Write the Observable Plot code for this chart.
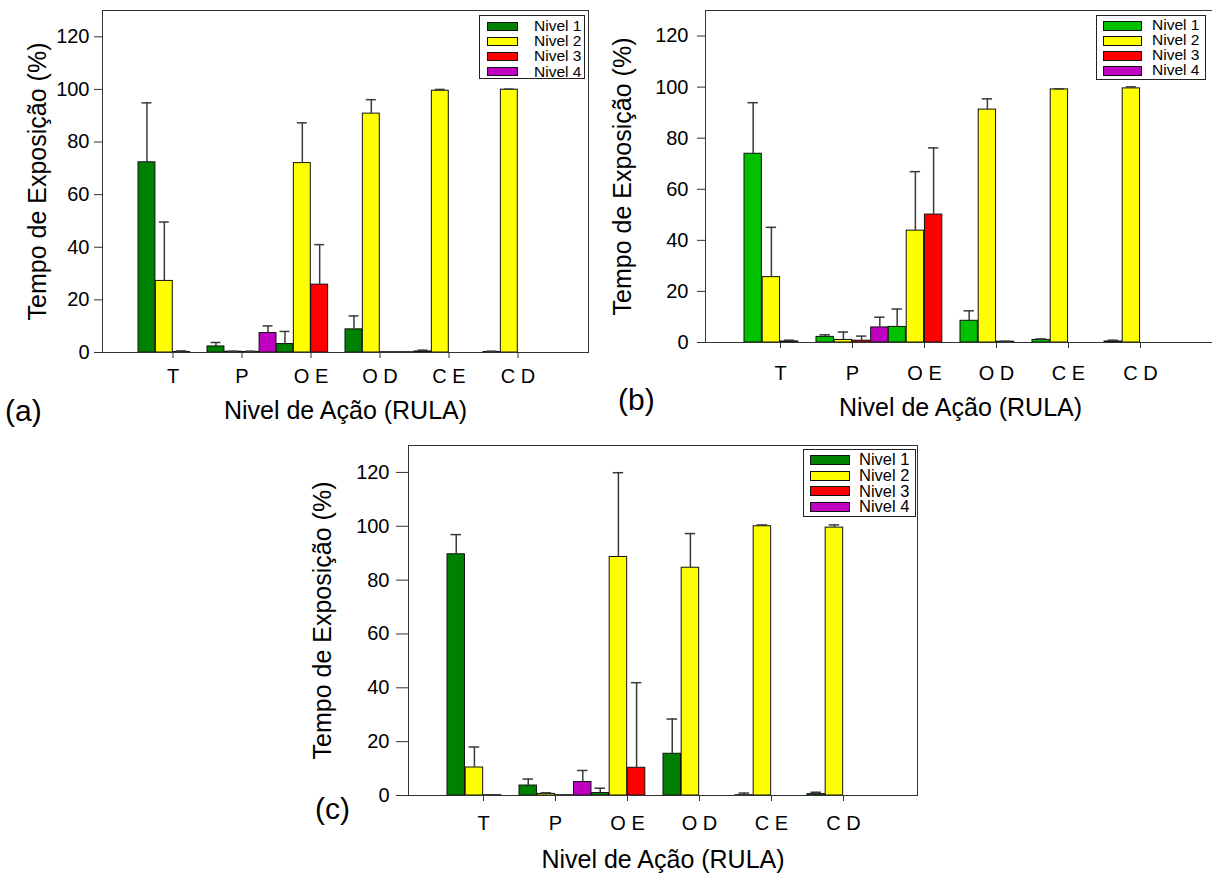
<!DOCTYPE html>
<html>
<head>
<meta charset="utf-8">
<script src="https://cdn.jsdelivr.net/npm/d3@7"></script>
<script src="https://cdn.jsdelivr.net/npm/@observablehq/plot@0.6"></script>
<style>
  html, body { margin: 0; padding: 0; background: #fff; overflow: hidden; }
  #page { position: relative; width: 1212px; height: 874px; overflow: hidden; font-family: "Liberation Sans", Arial, sans-serif; color: #000; }
  .panel { position: absolute; overflow: visible; }
  .panel svg { max-width: none !important; }
  .tag { position: absolute; font-size: 30px; line-height: 30px; color: #000; white-space: nowrap; }
  .legend { position: absolute; border: 1px solid #222; background: #fff; box-sizing: border-box; }
  .legend .sw { position: absolute; border: 1px solid #111; box-sizing: border-box; }
  .legend .lb { position: absolute; line-height: 0.9; white-space: nowrap; color: #000; }
  svg g[aria-label="y-axis label"], svg g[aria-label="x-axis label"] { font-size: 25px; }
</style>
</head>
<body>
<div id="page"></div>
<script>
// ---------- data ----------
const categories = ["T", "P", "O E", "O D", "C E", "C D"];
const niveis = ["Nivel 1", "Nivel 2", "Nivel 3", "Nivel 4"];
const yTicks = [0, 20, 40, 60, 80, 100, 120];
const xTitle = "Nivel de Ação (RULA)";
const yTitle = "Tempo de Exposição (%)";

// Panel (a): means and upper error limits, per category
const aNivel1 = [72.3, 2.3, 3.2, 8.8, 0.4, 0.2];
const aNivel1Top = [94.9, 3.8, 8.0, 13.9, 0.9, 0.5];
const aNivel2 = [27.2, 0.3, 72.0, 90.8, 99.5, 99.9];
const aNivel2Top = [49.6, 0.5, 87.3, 96.1, 100.0, 100.1];
const aNivel3 = [0.2, 0.2, 25.8, 0.1, 0, 0];
const aNivel3Top = [0.6, 0.5, 41.0, 0.3, 0, 0];
const aNivel4 = [0, 7.4, 0, 0.1, 0, 0];
const aNivel4Top = [0, 10.1, 0, 0.3, 0, 0];

// Panel (b)
const bNivel1 = [73.9, 2.2, 6.1, 8.5, 1.0, 0.4];
const bNivel1Top = [93.9, 3.0, 13.1, 12.4, 1.4, 0.9];
const bNivel2 = [25.6, 1.0, 43.8, 91.2, 99.1, 99.5];
const bNivel2Top = [45.1, 4.1, 66.9, 95.4, 99.3, 100.1];
const bNivel3 = [0.4, 0.7, 50.1, 0.3, 0, 0];
const bNivel3Top = [0.9, 2.5, 76.2, 0.5, 0, 0];
const bNivel4 = [0, 5.9, 0, 0, 0, 0];
const bNivel4Top = [0, 9.9, 0, 0, 0, 0];

// Panel (c)
const cNivel1 = [89.6, 3.7, 0.9, 15.5, 0.1, 0.5];
const cNivel1Top = [96.9, 6.1, 2.7, 28.4, 0.9, 1.2];
const cNivel2 = [10.4, 0.6, 88.6, 84.6, 100.0, 99.5];
const cNivel2Top = [18.0, 1.0, 119.9, 97.3, 100.5, 100.5];
const cNivel3 = [0.1, 0.1, 10.3, 0, 0, 0];
const cNivel3Top = [0.2, 0.2, 41.9, 0, 0, 0];
const cNivel4 = [0, 5.0, 0, 0, 0, 0];
const cNivel4Top = [0, 9.3, 0, 0, 0, 0];

const colorsDark = ["#008000", "#ffff00", "#ff0000", "#c000c0"];
const colorsBright = ["#00c000", "#ffff00", "#ff0000", "#c000c0"];

// ---------- helpers ----------
function makePanel(cfg) {
  const plotW = cfg.width - cfg.ml - cfg.mr;
  const band = plotW / (categories.length + 1); // 6 bands + half-band outer padding on each side
  const slot = band / niveis.length;            // each group of 4 bars fills its band
  const capInset = 3.5;
  const marks = [];
  niveis.forEach((n, j) => {
    const rows = categories.map((c, i) => ({cat: c, nivel: n, value: cfg.means[j][i], hi: cfg.tops[j][i]}));
    const errs = rows.filter(d => d.hi > d.value);
    const left = j * slot, right = (niveis.length - 1 - j) * slot;
    marks.push(Plot.barY(rows, {x: "cat", y: "value", fill: "nivel", stroke: "#111", strokeWidth: 1,
      insetLeft: left, insetRight: right}));
    marks.push(Plot.ruleX(errs, {x: "cat", y1: "value", y2: "hi", stroke: "#3a3a3a", strokeWidth: 1.5,
      dx: (j - (niveis.length - 1) / 2) * slot}));
    marks.push(Plot.tickY(errs, {x: "cat", y: "hi", stroke: "#3a3a3a", strokeWidth: 1.5,
      insetLeft: left + capInset, insetRight: right + capInset}));
  });
  const chart = Plot.plot({
    width: cfg.width, height: cfg.height,
    marginLeft: cfg.ml, marginRight: cfg.mr, marginTop: cfg.mt, marginBottom: cfg.mb,
    style: {fontFamily: '"Liberation Sans", Arial, sans-serif', fontSize: "20px", color: "#000", background: "transparent", overflow: "visible", maxWidth: "none"},
    x: {domain: categories, paddingInner: 0, paddingOuter: 0.5},
    y: {domain: [0, 130]},
    color: {domain: niveis, range: cfg.colors},
    marks: [
      ...marks,
      Plot.frame({stroke: "#333", strokeWidth: 1}),
      Plot.axisY({ticks: yTicks, tickSize: cfg.yTick, tickPadding: cfg.yPad, stroke: "#333",
        label: yTitle, labelAnchor: "center", labelArrow: "none", labelOffset: cfg.yLab}),
      Plot.axisX({tickSize: 6, tickPadding: cfg.xPad, stroke: "#333",
        label: xTitle, labelAnchor: "center", labelArrow: "none", labelOffset: cfg.xLab})
    ]
  });
  const div = document.createElement("div");
  div.className = "panel";
  div.style.left = cfg.left + "px";
  div.style.top = cfg.top + "px";
  div.style.width = cfg.width + "px";
  div.style.height = cfg.height + "px";
  div.appendChild(chart);
  page.appendChild(div);

  // legend (inside the frame, top-right)
  const lg = document.createElement("div");
  lg.className = "legend";
  Object.assign(lg.style, {left: cfg.lg.x + "px", top: cfg.lg.y + "px", width: cfg.lg.w + "px", height: cfg.lg.h + "px"});
  niveis.forEach((n, j) => {
    const cy = cfg.lg.first + j * cfg.lg.step;
    const sw = document.createElement("div");
    sw.className = "sw";
    Object.assign(sw.style, {left: cfg.lg.sx + "px", top: (cy - cfg.lg.sh / 2) + "px", width: cfg.lg.sw + "px", height: cfg.lg.sh + "px", background: cfg.colors[j]});
    const lb = document.createElement("div");
    lb.className = "lb";
    lb.textContent = n;
    Object.assign(lb.style, {left: cfg.lg.tx + "px", top: (cy - cfg.lg.fs * 0.47) + "px", fontSize: cfg.lg.fs + "px"});
    lg.appendChild(sw);
    lg.appendChild(lb);
  });
  page.appendChild(lg);

  const tag = document.createElement("div");
  tag.className = "tag";
  tag.textContent = cfg.tag;
  Object.assign(tag.style, {left: cfg.tagX + "px", top: cfg.tagY + "px"});
  page.appendChild(tag);
}

const page = document.getElementById("page");

makePanel({
  left: 0, top: 0, width: 600, height: 430, ml: 102, mr: 12, mt: 10, mb: 78,
  colors: colorsDark,
  means: [aNivel1, aNivel2, aNivel3, aNivel4], tops: [aNivel1Top, aNivel2Top, aNivel3Top, aNivel4Top],
  yTick: 8, yPad: 5, yLab: 74, xPad: 10, xLab: 66,
  lg: {x: 479, y: 15, w: 106, h: 64, sx: 7, sw: 31, sh: 9, tx: 54, first: 10, step: 15.3, fs: 15.5},
  tag: "(a)", tagX: 5, tagY: 396
});

makePanel({
  left: 600, top: 0, width: 620, height: 430, ml: 105, mr: 5, mt: 10, mb: 88,
  colors: colorsBright,
  means: [bNivel1, bNivel2, bNivel3, bNivel4], tops: [bNivel1Top, bNivel2Top, bNivel3Top, bNivel4Top],
  yTick: 8, yPad: 9, yLab: 92, xPad: 17, xLab: 73,
  lg: {x: 1096, y: 15, w: 110, h: 65, sx: 6, sw: 39, sh: 10, tx: 55, first: 9.5, step: 15, fs: 15.5},
  tag: "(b)", tagX: 618, tagY: 385
});

makePanel({
  left: 300, top: 435, width: 630, height: 439, ml: 108, mr: 13, mt: 10, mb: 79,
  colors: colorsDark,
  means: [cNivel1, cNivel2, cNivel3, cNivel4], tops: [cNivel1Top, cNivel2Top, cNivel3Top, cNivel4Top],
  yTick: 12, yPad: 7, yLab: 95, xPad: 14, xLab: 72,
  lg: {x: 803, y: 449, w: 113, h: 68, sx: 6, sw: 40, sh: 10, tx: 55, first: 10, step: 15.7, fs: 16.5},
  tag: "(c)", tagX: 315, tagY: 794
});
</script>
</body>
</html>
